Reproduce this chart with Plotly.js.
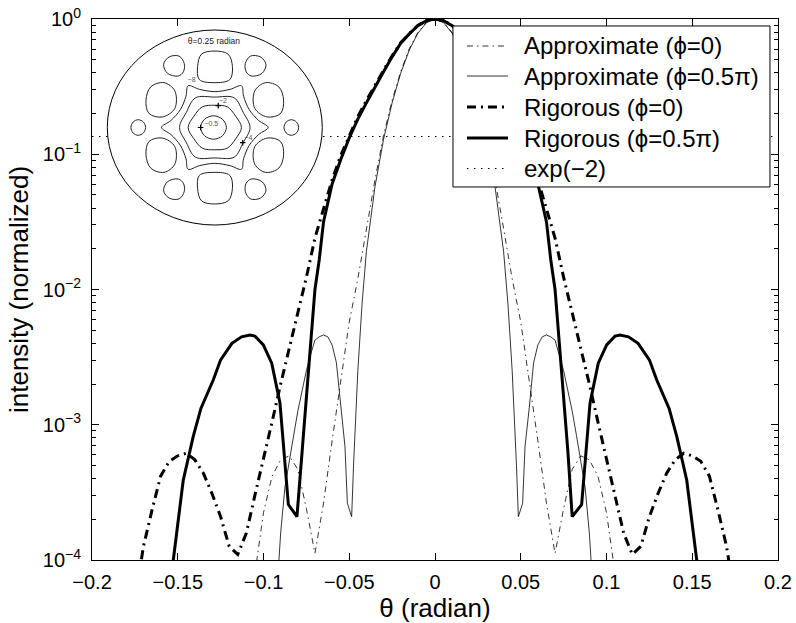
<!DOCTYPE html>
<html><head><meta charset="utf-8">
<script src="https://cdn.plot.ly/plotly-3.0.1.min.js"></script>
<style>html,body{margin:0;padding:0;background:#fff}#chart{width:796px;height:623px}</style>
</head><body><div id="chart"></div>
<script>
// ---------------- main curves (theta in radian, normalized intensity) ----------------
const thetaApprox0 = [-0.11,-0.105,-0.1,-0.095,-0.09,-0.085,-0.08,-0.075,-0.07,-0.065,-0.06,-0.055,-0.05,-0.045,-0.04,-0.035,-0.03,-0.025,-0.02,-0.015,-0.01,-0.005,0,
  0.005,0.01,0.015,0.02,0.025,0.03,0.035,0.04,0.045,0.05,0.055,0.06,0.065,0.07,0.075,0.08,0.085,0.09,0.095,0.1,0.105,0.11];
const intApprox0 = [0.00002,0.0000794,0.000224,0.000417,0.00055,0.000589,0.000468,0.00024,0.000112,0.000263,0.000759,0.00214,0.00575,0.012,0.0282,0.0646,0.138,0.251,0.407,0.603,0.794,0.944,1,
  0.944,0.794,0.603,0.407,0.251,0.138,0.0646,0.0282,0.012,0.00575,0.00214,0.000759,0.000263,0.000112,0.00024,0.000468,0.000589,0.00055,0.000417,0.000224,0.0000794,0.00002];

const thetaApprox5 = [-0.0925,-0.09,-0.0875,-0.085,-0.0825,-0.08,-0.0775,-0.075,-0.0725,-0.07,-0.0675,-0.065,-0.0625,-0.06,-0.0575,-0.055,-0.0525,-0.0511,-0.0486,-0.0475,-0.045,-0.0425,-0.04,-0.035,-0.03,-0.025,-0.02,-0.015,-0.01,-0.005,0,
  0.005,0.01,0.015,0.02,0.025,0.03,0.035,0.04,0.0425,0.045,0.0475,0.0486,0.0511,0.0525,0.055,0.0575,0.06,0.0625,0.065,0.0675,0.07,0.0725,0.075,0.0775,0.08,0.0825,0.085,0.0875,0.09,0.0925];
const intApprox5 = [0.00005,0.000158,0.000347,0.000537,0.000832,0.00126,0.00178,0.00251,0.00331,0.00422,0.00447,0.00461,0.00447,0.00389,0.00288,0.00135,0.000692,0.000263,0.000209,0.000501,0.00251,0.00794,0.0191,0.0575,0.129,0.24,0.398,0.589,0.785,0.94,1,
  0.94,0.785,0.589,0.398,0.24,0.129,0.0575,0.0191,0.00794,0.00251,0.000501,0.000209,0.000263,0.000692,0.00135,0.00288,0.00389,0.00447,0.00461,0.00447,0.00422,0.00331,0.00251,0.00178,0.00126,0.000832,0.000537,0.000347,0.000158,0.00005];

const thetaRig0 = [-0.175,-0.17,-0.165,-0.16,-0.155,-0.15,-0.145,-0.14,-0.135,-0.13,-0.125,-0.12,-0.115,-0.11,-0.105,-0.1,-0.095,-0.09,-0.085,-0.08,-0.075,-0.07,-0.065,-0.06,-0.055,-0.05,-0.045,-0.04,-0.035,-0.03,-0.025,-0.02,-0.015,-0.01,-0.005,0,
  0.005,0.01,0.015,0.02,0.025,0.03,0.035,0.04,0.045,0.05,0.055,0.06,0.065,0.07,0.075,0.08,0.085,0.09,0.095,0.1,0.105,0.11,0.115,0.12,0.125,0.13,0.135,0.14,0.145,0.15,0.155,0.16,0.165,0.17,0.175];
const intRig0 = [0.00005,0.000126,0.000234,0.000417,0.000537,0.000589,0.000616,0.00055,0.000437,0.000309,0.000209,0.000126,0.00011,0.000158,0.000302,0.00055,0.00105,0.002,0.00363,0.00676,0.0123,0.024,0.0389,0.0646,0.0977,0.138,0.19,0.25,0.326,0.417,0.535,0.668,0.78,0.895,0.975,1,
  0.975,0.895,0.78,0.668,0.535,0.417,0.326,0.25,0.19,0.138,0.0977,0.0646,0.0389,0.024,0.0123,0.00676,0.00363,0.002,0.00105,0.00055,0.000302,0.000158,0.00011,0.000126,0.000209,0.000309,0.000437,0.00055,0.000616,0.000589,0.000537,0.000417,0.000234,0.000126,0.00005];

const thetaRig5 = [-0.156,-0.1526,-0.1468,-0.141,-0.1365,-0.1293,-0.125,-0.1184,-0.1128,-0.1079,-0.105,-0.1001,-0.0952,-0.0904,-0.0855,-0.0805,-0.0775,-0.075,-0.0725,-0.07,-0.0675,-0.065,-0.06,-0.055,-0.05,-0.045,-0.04,-0.035,-0.03,-0.025,-0.02,-0.015,-0.01,-0.005,0,
  0.005,0.01,0.015,0.02,0.025,0.03,0.035,0.04,0.045,0.05,0.055,0.06,0.065,0.0675,0.07,0.0725,0.075,0.0775,0.08,0.0855,0.0904,0.0952,0.1001,0.105,0.1079,0.1128,0.1184,0.125,0.1293,0.1365,0.141,0.1468,0.1526,0.156];
const intRig5 = [0.00003,0.0001,0.000389,0.000817,0.00132,0.00214,0.00302,0.004,0.00447,0.00461,0.00452,0.00389,0.00285,0.00145,0.000257,0.000209,0.000631,0.00166,0.00417,0.01,0.0166,0.0316,0.0603,0.0912,0.132,0.182,0.24,0.316,0.407,0.525,0.661,0.776,0.891,0.973,1,
  0.973,0.891,0.776,0.661,0.525,0.407,0.316,0.24,0.182,0.132,0.0912,0.0603,0.0316,0.0166,0.01,0.00417,0.00166,0.000631,0.000209,0.000257,0.00145,0.00285,0.00389,0.00452,0.00461,0.00447,0.004,0.00302,0.00214,0.00132,0.000817,0.000389,0.0001,0.00003];

const thetaExp = [-0.2, 0.2];
const intExp = [0.1353, 0.1353];

const seriesNames = ['Approximate (ϕ=0)','Approximate (ϕ=0.5π)','Rigorous (ϕ=0)','Rigorous (ϕ=0.5π)','exp(−2)'];
const xTickVals = [-0.2,-0.15,-0.1,-0.05,0,0.05,0.1,0.15,0.2];
const yTickVals = [0.0001,0.001,0.01,0.1,1];
const yTickText = ['10<sup>−4</sup>','10<sup>−3</sup>','10<sup>−2</sup>','10<sup>−1</sup>','10<sup>0</sup>'];

// ---------------- inset contour map (theta_x, theta_y in radian) ----------------
const insetEdge = 0.25;
const insetTitle = 'θ=0.25 radian';
const contour05 = [[0.027,0],[0.018,0.021],[-0.003,0.030],[-0.024,0.021],[-0.033,0],[-0.024,-0.021],[-0.003,-0.030],[0.018,-0.021]];
const contour2 = [[0.062,0],[0.0485,0.029],[0.029,0.053],[0,0.057],[-0.029,0.053],[-0.0485,0.029],[-0.062,0],[-0.0485,-0.029],[-0.029,-0.053],[0,-0.057],[0.029,-0.053],[0.0485,-0.029]];
const contour4 = [[0.082,0],[0.066,0.039],[0.045,0.076],[0,0.078],[-0.045,0.076],[-0.066,0.039],[-0.082,0],[-0.066,-0.039],[-0.045,-0.076],[0,-0.078],[0.045,-0.076],[0.066,-0.039]];
const contour8 = [[0.124,0],[0.102,0.018],[0.080,0.046],[0.067,0.080],[0.062,0.107],[0.036,0.098],[0,0.092],[-0.036,0.098],[-0.062,0.107],[-0.067,0.080],[-0.080,0.046],[-0.102,0.018],
  [-0.124,0],[-0.102,-0.018],[-0.080,-0.046],[-0.067,-0.080],[-0.062,-0.107],[-0.036,-0.098],[0,-0.092],[0.036,-0.098],[0.062,-0.107],[0.067,-0.080],[0.080,-0.046],[0.102,-0.018]];
const islandTop = [[-0.040,0.156],[-0.031,0.188],[-0.002,0.196],[0.031,0.188],[0.041,0.156],[0.035,0.123],[-0.002,0.115],[-0.036,0.123]];
const islandBottom = [[-0.040,-0.156],[-0.036,-0.123],[-0.002,-0.115],[0.035,-0.123],[0.041,-0.156],[0.031,-0.188],[-0.002,-0.196],[-0.031,-0.188]];
const islandTopLeft = [[-0.119,0.162],[-0.106,0.181],[-0.083,0.183],[-0.071,0.164],[-0.073,0.143],[-0.085,0.132],[-0.110,0.139]];
const islandTopRight = [[0.119,0.162],[0.106,0.181],[0.083,0.183],[0.071,0.164],[0.073,0.143],[0.085,0.132],[0.110,0.139]];
const islandBottomLeft = [[-0.119,-0.162],[-0.106,-0.181],[-0.083,-0.183],[-0.071,-0.164],[-0.073,-0.143],[-0.085,-0.132],[-0.110,-0.139]];
const islandBottomRight = [[0.119,-0.162],[0.106,-0.181],[0.083,-0.183],[0.071,-0.164],[0.073,-0.143],[0.085,-0.132],[0.110,-0.139]];
const islandUpperLeft = [[-0.160,0.070],[-0.149,0.104],[-0.118,0.115],[-0.093,0.094],[-0.093,0.049],[-0.122,0.027],[-0.153,0.036]];
const islandUpperRight = [[0.160,0.070],[0.149,0.104],[0.118,0.115],[0.093,0.094],[0.093,0.049],[0.122,0.027],[0.153,0.036]];
const islandLowerLeft = [[-0.160,-0.070],[-0.153,-0.036],[-0.122,-0.027],[-0.093,-0.049],[-0.093,-0.094],[-0.118,-0.115],[-0.149,-0.104]];
const islandLowerRight = [[0.160,-0.070],[0.153,-0.036],[0.122,-0.027],[0.093,-0.049],[0.093,-0.094],[0.118,-0.115],[0.149,-0.104]];
const islandSideLeft = [[-0.161,0],[-0.166,0.014],[-0.178,0.020],[-0.190,0.014],[-0.195,0],[-0.190,-0.014],[-0.178,-0.020],[-0.166,-0.014]];
const islandSideRight = [[0.161,0],[0.166,0.014],[0.178,0.020],[0.190,0.014],[0.195,0],[0.190,-0.014],[0.178,-0.020],[0.166,-0.014]];
const contourMarkers = [[-0.033,0],[0.008,0.056],[0.065,-0.039]];
const contourLabels = ['−0.5','−2','−4','−8'];
const contourLabelPos = [[-0.008,0.009],[0.019,0.068],[0.078,-0.027],[-0.054,0.121]];
const insetTitlePos = [-0.002,0.220];

// ---------------- build ----------------
const FONT = 'Liberation Sans, Arial, Helvetica, sans-serif';
function closedLoops(list){
  const xs=[], ys=[];
  list.forEach(loop=>{ loop.forEach(p=>{xs.push(p[0]);ys.push(p[1]);}); xs.push(loop[0][0]); ys.push(loop[0][1]); xs.push(null); ys.push(null); });
  return {x:xs,y:ys};
}
const loops = closedLoops([contour05,contour2,contour4,contour8,islandTop,islandBottom,islandTopLeft,islandTopRight,islandBottomLeft,islandBottomRight,
  islandUpperLeft,islandUpperRight,islandLowerLeft,islandLowerRight,islandSideLeft,islandSideRight]);

const lineStyles = [
  {color:'#000',width:0.8,dash:'6px,4px,1.5px,4px'},
  {color:'#000',width:0.8},
  {color:'#000',width:3,dash:'9px,5px,2px,5px'},
  {color:'#000',width:3},
  {color:'#000',width:1.2,dash:'1.5px,5.5px'}
];
const curveX = [thetaApprox0,thetaApprox5,thetaRig0,thetaRig5,thetaExp];
const curveY = [intApprox0,intApprox5,intRig0,intRig5,intExp];

const traces = curveX.map((xs,i)=>({x:xs,y:curveY[i],name:seriesNames[i],mode:'lines',line:lineStyles[i],showlegend:false}));
traces.push(
  {x:loops.x,y:loops.y,xaxis:'x2',yaxis:'y2',mode:'lines',showlegend:false,connectgaps:false,
    line:{color:'#222',width:1,shape:'spline',smoothing:1}},
  {x:contourMarkers.map(p=>p[0]),y:contourMarkers.map(p=>p[1]),xaxis:'x2',yaxis:'y2',mode:'markers',showlegend:false,
    marker:{symbol:'cross-thin',size:4,line:{color:'#000',width:1.2}}},
  {x:contourLabelPos.map(p=>p[0]),y:contourLabelPos.map(p=>p[1]),text:contourLabels,xaxis:'x2',yaxis:'y2',mode:'text',showlegend:false,
    textfont:{family:FONT,size:7,color:'#555'}},
  {x:[insetTitlePos[0]],y:[insetTitlePos[1]],text:[insetTitle],xaxis:'x2',yaxis:'y2',mode:'text',showlegend:false,
    textfont:{family:FONT,size:8.5,color:'#222'}}
);

const minorY = [];
for (let e=-4;e<0;e++){ for (let k=2;k<=9;k++){ minorY.push(k*Math.pow(10,e)); } }

// manual legend box (paper coordinates)
const legBox = {x0:0.5262,x1:0.9883,y0:0.6895,y1:0.9871};
const legRowY = [0.9501,0.8946,0.8373,0.7800,0.7237];
const shapes = [
  {type:'circle',xref:'x2',yref:'y2',layer:'below',x0:-insetEdge,x1:insetEdge,y0:-insetEdge,y1:insetEdge,fillcolor:'#fff',line:{color:'#000',width:1}},
  {type:'rect',xref:'paper',yref:'paper',layer:'above',x0:legBox.x0,x1:legBox.x1,y0:legBox.y0,y1:legBox.y1,fillcolor:'#fff',line:{color:'#000',width:1}}
];
const annotations = [];
seriesNames.forEach((nm,i)=>{
  shapes.push({type:'line',xref:'paper',yref:'paper',layer:'above',x0:0.5466,x1:0.6064,y0:legRowY[i],y1:legRowY[i],line:lineStyles[i]});
  annotations.push({xref:'paper',yref:'paper',x:0.6268,y:legRowY[i],xanchor:'left',yanchor:'middle',text:nm,showarrow:false,
    font:{family:FONT,size:24,color:'#000'}});
});

const layout = {
  width:796, height:623,
  margin:{l:92,r:18,t:19,b:63},
  paper_bgcolor:'#fff', plot_bgcolor:'rgba(0,0,0,0)',
  font:{family:FONT,color:'#000',size:20},
  showlegend:false,
  xaxis:{range:[-0.2,0.2],tickvals:xTickVals,ticks:'inside',ticklen:7,tickcolor:'#000',showline:true,linecolor:'#000',linewidth:1,
    mirror:'ticks',showgrid:false,zeroline:false,tickfont:{size:20},ticklabelstandoff:4,
    title:{text:'θ (radian)',font:{size:26},standoff:1}},
  yaxis:{type:'log',range:[-4,0],tickvals:yTickVals,ticktext:yTickText,ticks:'inside',ticklen:7,tickcolor:'#000',showline:true,linecolor:'#000',linewidth:1,
    mirror:'ticks',showgrid:false,zeroline:false,tickfont:{size:20},ticklabelstandoff:6,
    minor:{tickvals:minorY,ticks:'inside',ticklen:4,tickcolor:'#000',showgrid:false},
    title:{text:'intensity (normalized)',font:{size:26},standoff:6}},
  xaxis2:{domain:[0.0204,0.3411],range:[-0.253,0.2586],visible:false,anchor:'y2'},
  yaxis2:{domain:[0.6081,0.9852],range:[-0.2654,0.2577],visible:false,anchor:'x2'},
  shapes:shapes,
  annotations:annotations
};
Plotly.newPlot('chart',traces,layout,{staticPlot:true});
</script></body></html>
